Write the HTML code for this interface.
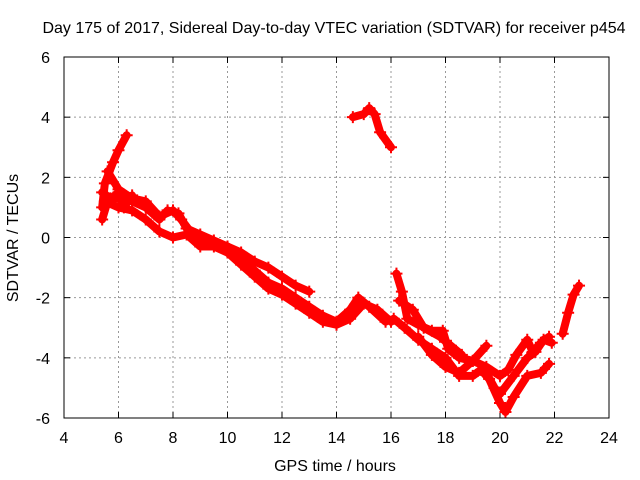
<!DOCTYPE html>
<html><head><meta charset="utf-8"><style>
html,body{margin:0;padding:0;background:#fff}
svg{display:block;font-family:"Liberation Sans",sans-serif}
</style></head><body>
<svg id="chart" width="640" height="480" viewBox="0 0 640 480">
<rect width="640" height="480" fill="#fff"/>
<text x="334" y="33" font-size="16" text-anchor="middle" fill="#000">Day 175 of 2017, Sidereal Day-to-day VTEC variation (SDTVAR) for receiver p454</text>
<text x="335" y="471" font-size="16" text-anchor="middle" fill="#000">GPS time / hours</text>
<text transform="translate(18,238) rotate(-90)" font-size="16" text-anchor="middle" fill="#000">SDTVAR / TECUs</text>
<g id="grid"></g>
<g id="ticks"></g>
<g id="series"></g>
<rect x="64" y="57" width="545" height="361" fill="none" stroke="#000" stroke-width="1"/>
</svg>
<script>
const xTicks=[4,6,8,10,12,14,16,18,20,22,24];
const yTicks=[-6,-4,-2,0,2,4,6];
const trackA=[[5.4,1.0],[5.5,1.8],[5.8,2.5],[6.0,2.9],[6.3,3.4]];
const trackB=[[5.4,1.5],[5.7,1.3],[6.0,1.3],[6.5,1.2],[7,1.0],[7.5,0.6],[7.8,0.9],[8.2,0.8],[8.5,0.3],[9,0.1],[9.5,-0.1],[10,-0.3],[10.5,-0.7],[11,-1.1],[11.5,-1.5],[12,-1.7],[12.5,-2.0],[13,-2.3],[13.5,-2.6],[14,-2.8],[14.5,-2.4],[14.8,-2.0],[15.2,-2.3],[15.8,-2.8]];
const trackC=[[5.5,1.2],[6,1.0],[6.5,0.9],[7,0.6],[7.5,0.2],[8,0.0],[8.5,0.1],[9,-0.3],[9.5,-0.3],[10,-0.5],[10.5,-0.9],[11,-1.3],[11.5,-1.7],[12,-1.9],[12.5,-2.2],[13,-2.5],[13.5,-2.8],[14,-2.9],[14.5,-2.7],[15,-2.2],[15.5,-2.4],[16,-2.8]];
const trackD=[[5.6,2.2],[6,1.6],[6.5,1.3],[7,1.2],[7.5,0.7],[8,0.9],[8.3,0.6],[8.8,0.0],[9.5,-0.2],[10,-0.3],[10.5,-0.5],[11,-0.8],[11.5,-1.0],[12,-1.3],[12.5,-1.6],[13,-1.8]];
const trackJ=[[5.4,0.6],[5.6,1.2],[6,1.5],[6.2,1.0],[6.5,1.4]];
const trackIsland=[[14.6,4.0],[15,4.1],[15.2,4.3],[15.4,4.1],[15.6,3.5],[16,3.0]];
const trackE=[[16.2,-1.2],[16.4,-1.8],[16.6,-2.7],[17,-2.9],[17.5,-3.1],[17.9,-3.1],[18.1,-3.7],[18.5,-4.0],[19,-4.1],[19.5,-4.3],[20,-4.6],[20.3,-4.4],[20.6,-3.9],[21,-3.4],[21.2,-3.8],[21.5,-3.5],[21.8,-3.3]];
const trackK=[[16.3,-2.1],[16.8,-2.4],[17.2,-3.0],[17.8,-3.3],[18.2,-3.6],[18.6,-3.9]];
const trackF=[[16.1,-2.7],[16.5,-3.0],[17,-3.4],[17.5,-3.7],[18,-4.0],[18.5,-4.6],[19,-4.6],[19.3,-4.4],[19.6,-4.7],[20,-5.5],[20.2,-5.8],[20.5,-5.3],[21,-4.6],[21.5,-4.5],[21.8,-4.2]];
const trackG=[[17,-3.3],[17.5,-3.9],[18,-4.3],[18.5,-4.5],[19,-4.1],[19.5,-3.6]];
const trackH=[[19.5,-4.5],[19.8,-5.0],[20,-5.2],[20.5,-4.6],[21,-4.0],[21.3,-3.8],[21.6,-3.4],[21.9,-3.5]];
const trackI=[[22.3,-3.2],[22.5,-2.5],[22.7,-1.9],[22.9,-1.6]];
const tracks=[trackA,trackB,trackC,trackD,trackJ,trackIsland,trackE,trackK,trackF,trackG,trackH,trackI];

const NS="http://www.w3.org/2000/svg";
const X0=64,X1=609,Y0=418,Y1=57;
const xs=v=>X0+(v-4)/20*(X1-X0);
const ys=v=>Y0-(v+6)/12*(Y0-Y1);
function mk(tag,attrs,parent){const e=document.createElementNS(NS,tag);for(const k in attrs)e.setAttribute(k,attrs[k]);parent.appendChild(e);return e;}
const grid=document.getElementById('grid'),ticks=document.getElementById('ticks'),series=document.getElementById('series');
xTicks.forEach(t=>{
  const x=xs(t);
  if(t>4&&t<24){const g=mk('line',{x1:x,x2:x,y1:Y0,y2:Y1,stroke:'#999','stroke-dasharray':'2,3','stroke-width':1},grid);
  
  }
  mk('line',{x1:x,x2:x,y1:Y0,y2:Y0-6,stroke:'#000'},ticks);
  mk('line',{x1:x,x2:x,y1:Y1,y2:Y1+6,stroke:'#000'},ticks);
  const l=mk('text',{x:x,y:Y0+25,'font-size':16,'text-anchor':'middle'},ticks);
  l.textContent=t;
  
  
});
yTicks.forEach(t=>{
  const y=ys(t);
  if(t>-6&&t<6){const g=mk('line',{x1:X0,x2:X1,y1:y,y2:y,stroke:'#999','stroke-dasharray':'2,3','stroke-width':1},grid);
  
  }
  mk('line',{x1:X0,x2:X0+6,y1:y,y2:y,stroke:'#000'},ticks);
  mk('line',{x1:X1,x2:X1-6,y1:y,y2:y,stroke:'#000'},ticks);
  const l=mk('text',{x:X0-14,y:y+6,'font-size':16,'text-anchor':'end'},ticks);
  l.textContent=t;
  
  
});
tracks.forEach(tr=>{
  const p=mk('polyline',{points:tr.map(d=>xs(d[0])+','+ys(d[1])).join(' '),fill:'none',stroke:'#f00','stroke-width':8,'stroke-linejoin':'round','stroke-linecap':'round'},series);
  
  
  tr.forEach(d=>{
    const x=xs(d[0]),y=ys(d[1]);
    const m=mk('path',{d:`M${x-6},${y}H${x+6}M${x},${y-6}V${y+6}`,stroke:'#f00','stroke-width':2},series);
    
    
  });
});
</script>
</body></html>
